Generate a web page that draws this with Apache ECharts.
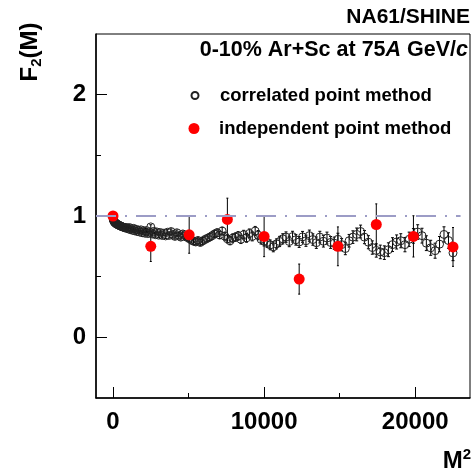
<!DOCTYPE html>
<html><head><meta charset="utf-8">
<script src="https://cdn.jsdelivr.net/npm/echarts@6/dist/echarts.min.js"></script>
<style>html,body{margin:0;padding:0;background:#fff}#c{width:476px;height:471px}</style>
</head><body><div id="c"></div>
<script>
// ---- data ----
const corrM = [1,2,3,4,5,6,7,8,9,10,11,12,13,14,15,16,17,18,19,20,21,22,23,24,25,26,27,28,29,30,
31,32,33,34,35,36,37,38,39,40,41,42,43,44,45,46,47,48,49,50,51,52,53,54,55,56,57,58,59,60,
61,62,63,64,65,66,67,68,69,70,71,72,73,74,75,76,77,78,79,80,81,82,83,84,85,86,87,88,89,90,
91,92,93,94,95,96,97,98,99,100,101,102,103,104,105,106,107,108,109,110,111,112,113,114,115,116,117,118,119,120,
121,122,123,124,125,126,127,128,129,130,131,132,133,134,135,136,137,138,139,140,141,142,143,144,145,146,147,148,149,150];
const corrF2 = [
1.000,0.990,0.982,0.976,0.970,0.966,0.961,0.958,0.953,0.950,
0.947,0.944,0.942,0.938,0.936,0.933,0.931,0.928,0.926,0.923,
0.921,0.918,0.916,0.913,0.911,0.908,0.906,0.903,0.905,0.898,
0.902,0.893,0.905,0.888,0.896,0.882,0.898,0.878,0.890,0.872,
0.884,0.868,0.886,0.862,0.878,0.858,0.880,0.855,0.868,0.910,
0.852,0.874,0.846,0.868,0.842,0.864,0.840,0.858,0.836,0.866,
0.840,0.872,0.848,0.832,0.862,0.840,0.826,0.852,0.838,0.824,
0.814,0.802,0.792,0.786,0.798,0.782,0.794,0.806,0.816,0.826,
0.838,0.852,0.862,0.844,0.876,0.834,0.812,0.796,0.818,0.826,
0.836,0.808,0.846,0.820,0.856,0.832,0.876,0.842,0.808,0.792,
0.782,0.762,0.746,0.770,0.790,0.812,0.826,0.790,0.830,0.804,
0.786,0.828,0.796,0.838,0.806,0.780,0.826,0.792,0.818,0.782,
0.776,0.808,0.764,0.732,0.796,0.826,0.848,0.872,0.826,0.784,
0.740,0.716,0.704,0.698,0.722,0.764,0.786,0.796,0.764,0.808,
0.836,0.868,0.838,0.776,0.738,0.714,0.768,0.848,0.798,0.696];
const corrErr = [
0.001,0.002,0.002,0.003,0.003,0.003,0.004,0.004,0.004,0.005,
0.005,0.005,0.006,0.006,0.006,0.007,0.007,0.007,0.008,0.008,
0.008,0.009,0.009,0.009,0.010,0.010,0.010,0.011,0.011,0.011,
0.012,0.012,0.012,0.013,0.013,0.013,0.014,0.014,0.014,0.015,
0.015,0.015,0.016,0.016,0.016,0.017,0.017,0.017,0.018,0.018,
0.018,0.019,0.019,0.019,0.020,0.020,0.020,0.021,0.021,0.021,
0.022,0.022,0.022,0.023,0.023,0.023,0.024,0.024,0.024,0.025,
0.025,0.025,0.026,0.026,0.027,0.027,0.028,0.028,0.029,0.029,
0.030,0.030,0.031,0.031,0.032,0.032,0.033,0.033,0.034,0.034,
0.035,0.035,0.036,0.036,0.037,0.037,0.038,0.038,0.039,0.039,
0.040,0.040,0.041,0.041,0.042,0.042,0.043,0.043,0.044,0.044,
0.045,0.045,0.046,0.046,0.047,0.047,0.048,0.048,0.049,0.049,
0.050,0.050,0.051,0.051,0.052,0.052,0.053,0.053,0.054,0.054,
0.055,0.055,0.056,0.056,0.057,0.057,0.058,0.058,0.059,0.059,
0.060,0.060,0.061,0.061,0.062,0.062,0.063,0.063,0.064,0.064];

const indepM2 = [1, 2500, 5041, 7569, 10000, 12321, 14884, 17424, 19881, 22500];
const indepF2 = [1.000, 0.750, 0.845, 0.972, 0.832, 0.480, 0.750, 0.930, 0.832, 0.745];
const indepErr = [0.005, 0.125, 0.152, 0.175, 0.167, 0.124, 0.160, 0.170, 0.170, 0.160];

const refLineX = [-1125, 23000];
const refLineY = [1, 1];

const xMajorTicks = [0, 10000, 20000];
const xMinorTicks = [5000, 15000];
const yMajorTicks = [0, 1, 2];
const yMinorTicks = [0.5, 1.5];

const seriesNames = ['correlated point method', 'independent point method'];

// ---- build ----
const FONT = '"Liberation Sans", Arial, Helvetica, sans-serif';
const corrPts = corrM.map((m, i) => [m * m, corrF2[i]]);
const corrBars = corrM.map((m, i) => [m * m, corrF2[i] - corrErr[i], corrF2[i] + corrErr[i]]);
const indepPts = indepM2.map((x, i) => [x, indepF2[i]]);
const indepBars = indepM2.map((x, i) => [x, indepF2[i] - indepErr[i], indepF2[i] + indepErr[i]]);
const refPts = refLineX.map((x, i) => [x, refLineY[i]]);

function errRender(cap) {
  return function (params, api) {
    const x = api.value(0);
    const p1 = api.coord([x, api.value(1)]);
    const p2 = api.coord([x, api.value(2)]);
    const st = { stroke: '#000', lineWidth: 1 };
    return {
      type: 'group',
      children: [
        { type: 'line', shape: { x1: p1[0], y1: p1[1], x2: p2[0], y2: p2[1] }, style: st },
        { type: 'line', shape: { x1: p1[0] - cap, y1: p1[1], x2: p1[0] + cap, y2: p1[1] }, style: st },
        { type: 'line', shape: { x1: p2[0] - cap, y1: p2[1], x2: p2[0] + cap, y2: p2[1] }, style: st }
      ]
    };
  };
}

const plainNum = v => String(v);
const chart = echarts.init(document.getElementById('c'), null, { renderer: 'canvas' });
const xBase = { type: 'value', min: -1125, max: 23625, splitLine: { show: false } };
const yBase = { type: 'value', min: -0.5, max: 2.5, splitLine: { show: false } };
const legendText = { color: '#000', fontFamily: FONT, fontWeight: 'bold', fontSize: 18.5 };
chart.setOption({
  animation: false,
  backgroundColor: '#fff',
  grid: { left: 96, right: 6, top: 34, bottom: 73, show: true, borderColor: '#000', borderWidth: 1, backgroundColor: 'transparent' },
  xAxis: [
    Object.assign({}, xBase, {
      position: 'bottom',
      axisLine: { show: true, onZero: false, lineStyle: { color: '#000', width: 1.5 } },
      axisTick: { show: true, inside: true, length: 11, customValues: xMajorTicks, lineStyle: { color: '#000', width: 1 } },
      axisLabel: { show: true, customValues: xMajorTicks, formatter: plainNum, margin: 12, color: '#000', fontFamily: FONT, fontWeight: 'bold', fontSize: 24 }
    }),
    Object.assign({}, xBase, {
      position: 'bottom',
      axisLine: { show: false, onZero: false },
      axisTick: { show: true, inside: true, length: 5, customValues: xMinorTicks, lineStyle: { color: '#000', width: 1 } },
      axisLabel: { show: false }
    })
  ],
  yAxis: [
    Object.assign({}, yBase, {
      position: 'left',
      axisLine: { show: true, onZero: false, lineStyle: { color: '#000', width: 1.5 } },
      axisTick: { show: true, inside: true, length: 11, customValues: yMajorTicks, lineStyle: { color: '#000', width: 1 } },
      axisLabel: { show: true, customValues: yMajorTicks, formatter: plainNum, margin: 10, color: '#000', fontFamily: FONT, fontWeight: 'bold', fontSize: 24 }
    }),
    Object.assign({}, yBase, {
      position: 'left',
      axisLine: { show: false, onZero: false },
      axisTick: { show: true, inside: true, length: 5, customValues: yMinorTicks, lineStyle: { color: '#000', width: 1 } },
      axisLabel: { show: false }
    })
  ],
  legend: [
    {
      data: [seriesNames[0]], orient: 'vertical', left: 190.5, top: 86, padding: 0,
      itemWidth: 7, itemHeight: 7, formatter: '{g|}{name}',
      textStyle: Object.assign({ rich: { g: { width: 16.5 } } }, legendText)
    },
    {
      data: [seriesNames[1]], orient: 'vertical', left: 188.5, top: 119, padding: 0,
      itemWidth: 11, itemHeight: 11, formatter: '{g|}{name}',
      textStyle: Object.assign({ rich: { g: { width: 14.5 } } }, legendText)
    }
  ],
  graphic: [
    { type: 'text', x: 470, y: 17, style: { text: 'NA61/SHINE', font: 'bold 21px ' + FONT, fill: '#000', textAlign: 'right', textVerticalAlign: 'middle' } },
    { type: 'text', x: 468, y: 50, style: {
        text: '{a|0-10% Ar+Sc at 75}{i|A}{a| GeV/}{i|c}',
        textAlign: 'right', textVerticalAlign: 'middle',
        rich: {
          a: { fontFamily: FONT, fontWeight: 'bold', fontSize: 21.5, fill: '#000' },
          i: { fontFamily: FONT, fontWeight: 'bold', fontStyle: 'italic', fontSize: 21.5, fill: '#000' }
        } } },
    { type: 'text', x: 30, y: 52, rotation: Math.PI / 2, style: {
        text: '{a|F}{b|2}{a|(M)}',
        textAlign: 'center', textVerticalAlign: 'middle',
        rich: {
          a: { fontFamily: FONT, fontWeight: 'bold', fontSize: 24, fill: '#000', lineHeight: 28 },
          b: { fontFamily: FONT, fontWeight: 'bold', fontSize: 15, fill: '#000', verticalAlign: 'bottom', lineHeight: 28 }
        } } },
    { type: 'text', x: 471, y: 461, style: {
        text: '{a|M}{b|2}',
        textAlign: 'right', textVerticalAlign: 'middle',
        rich: {
          a: { fontFamily: FONT, fontWeight: 'bold', fontSize: 24, fill: '#000', lineHeight: 28 },
          b: { fontFamily: FONT, fontWeight: 'bold', fontSize: 15, fill: '#000', verticalAlign: 'top', lineHeight: 28 }
        } } }
  ],
  series: [
    {
      name: 'ref', type: 'line', data: refPts, symbol: 'none', silent: true,
      lineStyle: { color: '#9c9cc6', width: 1.8, type: [20, 9, 2, 9] }
    },
    {
      name: 'corrErr', type: 'custom', data: corrBars, renderItem: errRender(1.5),
      encode: { x: 0, y: [1, 2] }, silent: true, clip: true
    },
    {
      name: seriesNames[0], type: 'scatter', data: corrPts, symbol: 'circle', symbolSize: 8,
      itemStyle: { color: 'rgba(255,255,255,0)', borderColor: '#222', borderWidth: 1, opacity: 1 }
    },
    {
      name: 'indepErr', type: 'custom', data: indepBars, renderItem: errRender(1),
      encode: { x: 0, y: [1, 2] }, silent: true, clip: true
    },
    {
      name: seriesNames[1], type: 'scatter', data: indepPts, symbol: 'circle', symbolSize: 11,
      itemStyle: { color: '#ff0000', opacity: 1 }
    }
  ]
});
</script>
</body></html>
